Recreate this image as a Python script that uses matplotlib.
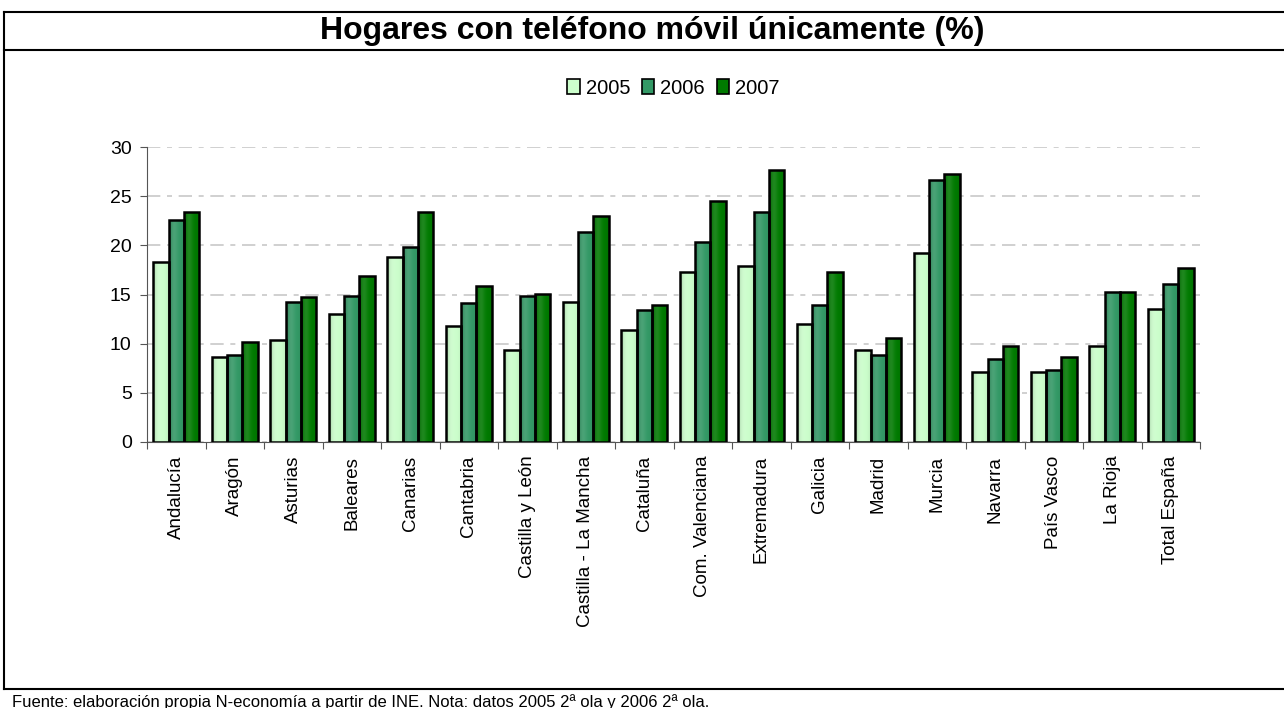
import numpy as np
import matplotlib
matplotlib.use("Agg")
import matplotlib.pyplot as plt
from matplotlib.lines import Line2D
from matplotlib.colors import to_rgb

plt.rcParams['font.family'] = ['Liberation Sans', 'DejaVu Sans']

# Datos
regiones = ["Andalucía", "Aragón", "Asturias", "Baleares", "Canarias", "Cantabria",
            "Castilla y León", "Castilla - La Mancha", "Cataluña", "Com. Valenciana",
            "Extremadura", "Galicia", "Madrid", "Murcia", "Navarra", "País Vasco",
            "La Rioja", "Total España"]
v2005 = [18.3, 8.6, 10.4, 13.0, 18.8, 11.8, 9.4, 14.2, 11.4, 17.3,
         17.9, 12.0, 9.4, 19.2, 7.1, 7.1, 9.8, 13.5]
v2006 = [22.6, 8.8, 14.2, 14.9, 19.8, 14.1, 14.9, 21.4, 13.4, 20.4,
         23.4, 13.9, 8.8, 26.7, 8.4, 7.3, 15.3, 16.1]
v2007 = [23.4, 10.2, 14.7, 16.9, 23.4, 15.9, 15.1, 23.0, 13.9, 24.5,
         27.7, 17.3, 10.6, 27.3, 9.8, 8.6, 15.3, 17.7]
anios = ["2005", "2006", "2007"]
colores = ["#ccffcc", "#339966", "#007a00"]


def gradiente(ax, bars, color):
    # sombreado horizontal suave: borde izquierdo mas oscuro, centro mas claro
    c = np.array(to_rgb(color))
    t = np.linspace(0, 1, 32)
    shade = 1 - 0.28 * np.exp(-t / 0.12) - 0.10 * np.exp(-(1 - t) / 0.12)
    light = np.exp(-((t - 0.3) / 0.25) ** 2) * 0.12
    img = np.clip(c[None, :] * shade[:, None] + light[:, None] * (1 - c[None, :]), 0, 1)
    img = img[None, :, :]
    for b in bars:
        x0, y0 = b.get_x(), b.get_y()
        im = ax.imshow(img, extent=(x0, x0 + b.get_width(), y0, y0 + b.get_height()),
                       aspect="auto", zorder=3.5, interpolation="bilinear")
        im.set_clip_path(b)


def main():
    fig = plt.figure(figsize=(12.84, 7.08), dpi=100)
    left, width = 0.1145, 0.8201
    ax = fig.add_axes([left, 0.376, width, 0.416])

    x = np.arange(len(regiones))
    w = 0.26
    series = [v2005, v2006, v2007]
    for i, vals in enumerate(series):
        bars = ax.bar(x + (i - 1) * w, vals, w, color=colores[i], edgecolor="none",
                      label=anios[i], zorder=3)
        gradiente(ax, bars, colores[i])
        ax.bar(x + (i - 1) * w, vals, w, fill=False, edgecolor="black",
               linewidth=1.8, zorder=4)

    ax.set_xlim(-0.5, len(regiones) - 0.5)
    ax.set_ylim(0, 30)
    ax.set_yticks(range(0, 31, 5))
    ax.yaxis.grid(True, color="#c8c8c8", linewidth=1.2, dashes=(8, 4, 3, 4), zorder=0)
    ax.set_axisbelow(True)

    # ticks en las fronteras de categoria, etiquetas en el centro
    ax.set_xticks(np.arange(-0.5, len(regiones), 1))
    ax.set_xticklabels([])
    ax.set_xticks(x, minor=True)
    ax.set_xticklabels(regiones, minor=True, rotation=90, fontsize=13.5)
    ax.tick_params(axis="x", which="minor", length=0, pad=10)
    ax.tick_params(axis="x", which="major", length=5, color="#555555", direction="out")
    ax.tick_params(axis="y", labelsize=14, length=5, color="#555555", pad=6)

    for s in ["top", "right"]:
        ax.spines[s].set_visible(False)
    ax.spines["left"].set_color("#555555")
    ax.spines["bottom"].set_color("#555555")

    handles = [plt.Rectangle((0, 0), 1, 1, facecolor=c, edgecolor="black", linewidth=1.2)
               for c in colores]
    fig.legend(handles, anios, loc="center", bbox_to_anchor=(left + width / 2, 1 - 88 / 708),
               ncol=3, frameon=False, fontsize=14.5, handlelength=0.6, handleheight=0.75,
               handletextpad=0.3, columnspacing=0.6)

    # marco y titulo
    fig.add_artist(Line2D([4 / 1284, 1], [1 - 12 / 708] * 2, color="black", lw=1.5))
    fig.add_artist(Line2D([4 / 1284, 1], [1 - 50 / 708] * 2, color="black", lw=1.5))
    fig.add_artist(Line2D([4 / 1284, 1], [1 - 689 / 708] * 2, color="black", lw=1.5))
    fig.add_artist(Line2D([4 / 1284] * 2, [1 - 12 / 708, 1 - 689 / 708], color="black", lw=1.5))

    fig.text(652 / 1284, 1 - 31 / 708, "Hogares con teléfono móvil únicamente (%)",
             ha="center", va="center", fontsize=23, fontweight="bold")
    fig.text(12 / 1284, 1 - 702 / 708,
             "Fuente: elaboración propia N-economía a partir de INE. Nota: datos 2005 2ª ola y 2006 2ª ola.",
             ha="left", va="center", fontsize=12)

    fig.savefig("out.png", dpi=100)


if __name__ == '__main__':
    main()
